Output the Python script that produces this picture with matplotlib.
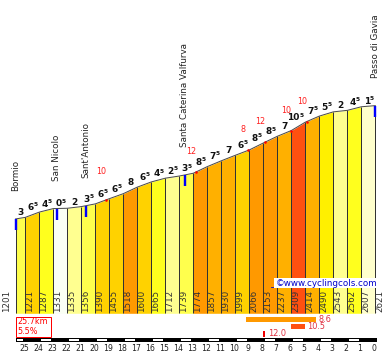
import matplotlib

matplotlib.use("Agg")
import matplotlib.pyplot as plt
import numpy as np
from matplotlib.patches import Rectangle

# profile: km still to climb at each point, altitude (m)
km_marks = [25.7, 25, 24, 23, 22, 21, 20, 19, 18, 17, 16, 15, 14, 13,
            12, 11, 10, 9, 8, 7, 6, 5, 4, 3, 2, 1, 0]
altitudes = [1201, 1221, 1287, 1331, 1335, 1356, 1390, 1455, 1518, 1600,
             1665, 1712, 1739, 1774, 1857, 1930, 1999, 2066, 2153, 2237,
             2309, 2414, 2490, 2543, 2562, 2607, 2621]
# average gradient of each column, as printed above it
gradients = [3, 6.5, 4.5, 0.5, 2, 3.5, 6.5, 6.5, 8, 6.5, 4.5, 2.5, 3.5,
             8.5, 7.5, 7, 6.5, 8.5, 8.5, 7, 10.5, 7.5, 5.5, 2, 4.5, 1.5]

# steepest short stretches (red marks)
peak_km = [19.24, 12.81, 9.07, 7.88, 6.04, 4.9]
peak_grad = [10, 12, 8, 12, 10, 10]

places = ["Bormio", "San Nicolo", "Sant'Antonio",
          "Santa Caterina Valfurva", "Passo di Gavia"]
place_km = [25.7, 22.76, 20.66, 13.6, 0]

# best stretches over 5 km, 1 km and 100 m
best_start = [9.24, 6.02, 8.0]
best_len = [5, 1, 0.15]
best_grad = [8.6, 10.5, 12.0]

total_km = 25.7
avg_grad = 5.5

# colour bands by gradient
band_edges = [1, 2, 3, 4, 5, 6, 7, 8, 9, 10, 11, 12]
band_colors = ["#FAFFF5", "#FFFFCC", "#FFFF90", "#FFFF4D", "#FFFF1E",
               "#FFF000", "#FFD200", "#FFB000", "#FF9900", "#FF7700",
               "#FF5010", "#FF2A00", "#EE0000"]


def grad_color(g):
    return band_colors[int(np.searchsorted(band_edges, g, side="right"))]


# pixel layout of the 390x355 picture
PX_KM = 14.0     # px per km
PX_M = 0.0798    # px per metre
X0 = 375.3       # px column of km 0
Y0 = 314.8       # px row of 0 m


def row(py):
    return (Y0 - py) / PX_M


def col(px):
    return (X0 - px) / PX_KM


PT = 0.72  # points per pixel at dpi 100

fig = plt.figure(figsize=(3.9, 3.55), dpi=100)
ax = fig.add_axes([0, 0, 1, 1])
ax.set_xlim(col(0), col(390))
ax.set_ylim(row(355), row(0))
ax.axis("off")

base = row(313.3)
km = np.array(km_marks, dtype=float)
alt = np.array(altitudes, dtype=float)

# columns
for i, g in enumerate(gradients):
    ax.fill_between(km[i:i + 2], alt[i:i + 2], base, color=grad_color(g), lw=0)
ax.vlines(km, base, alt, color="#333333", lw=1 * PT)
ax.plot(km, alt, color="#4a4a4a", lw=1 * PT)

# gradient labels above each column
for i, g in enumerate(gradients):
    mid = (km[i] + km[i + 1]) / 2
    top = alt[i + 1]
    whole = int(g)
    if g != whole:
        ax.annotate(str(whole), (mid, top), xytext=(1.5 * PT, 2 * PT),
                    textcoords="offset points", ha="right", va="baseline",
                    fontsize=6.5, fontweight="bold", color="#111111")
        ax.annotate("5", (mid, top), xytext=(1.6 * PT, 5.6 * PT),
                    textcoords="offset points", ha="left", va="baseline",
                    fontsize=4.2, fontweight="bold", color="#111111")
    else:
        ax.annotate(str(whole), (mid, top), xytext=(0, 2 * PT),
                    textcoords="offset points", ha="center", va="baseline",
                    fontsize=6.5, fontweight="bold", color="#111111")

# steepest points
rev_km, rev_alt = km[::-1], alt[::-1]
for i, (k, g) in enumerate(zip(peak_km, peak_grad)):
    e = np.interp(k, rev_km, rev_alt)
    ax.plot(k, e, "o", ms=2.6 * PT, color="#FF0000", mec="none")
    lift = 24 if i == 0 else 16
    ax.annotate(str(g), (k, e), xytext=(-5 * PT, lift * PT),
                textcoords="offset points", ha="center", va="bottom",
                fontsize=5.8, color="#FF2020")

# places
for name, k in zip(places, place_km):
    e = np.interp(k, rev_km, rev_alt)
    ax.plot([k, k], [e, e - 11 / PX_M], color="#0000FF", lw=2.4 * PT,
            solid_capstyle="butt")
    ax.annotate(name, (k, e), xytext=(0, 28 * PT), textcoords="offset points",
                rotation=90, ha="center", va="bottom", fontsize=6.3,
                color="#222222")

# altitude labels at the foot of the columns
for i, (k, a) in enumerate(zip(km, altitudes)):
    x = k + 9 / PX_KM if i == 0 else k - 4.5 / PX_KM
    ax.text(x, base + 1 / PX_M, str(a), rotation=90, ha="center", va="bottom",
            fontsize=6.3, color="#333333")

# watermark
ax.text(col(377), row(283), "\u00a9www.cyclingcols.com", ha="right",
        va="center", fontsize=6.3, color="#0000CC",
        bbox=dict(facecolor="white", edgecolor="none", pad=0.6))
ax.plot([col(271), col(377)], [row(287.3), row(287.3)], color="#0000CC",
        lw=0.8 * PT)

# summary box
ax.add_patch(Rectangle((km[0], row(336.7)), col(51.3) - km[0],
                       row(316.7) - row(336.7), facecolor="white",
                       edgecolor="#FF0000", lw=1 * PT))
ax.text(col(17.5), row(321.5), f"{total_km}km", ha="left", va="center",
        fontsize=5.8, color="#FF0000")
ax.text(col(17.5), row(331.5), f"{avg_grad}%", ha="left", va="center",
        fontsize=5.8, color="#FF0000")

# best stretches
bar_h = 5.5 / PX_M
for j, (s, n, g) in enumerate(zip(best_start, best_len, best_grad)):
    yc = row(319.5 + 7.2 * j)
    ax.barh(yc, -n, height=bar_h, left=s, color=grad_color(g), lw=0)
    ax.annotate(f"{g:.1f}", (s - n, yc), xytext=(2.3 * PT, 0),
                textcoords="offset points", ha="left", va="center",
                fontsize=5.9, color="#E03040")

# km scale
ax.add_patch(Rectangle((km[0], row(341.8)), col(376.7) - km[0],
                       row(338.2) - row(341.8), facecolor="black", lw=0))
for k in range(26, 0, -2):
    lo = min(k, km[0]) - 1.5 / PX_KM
    hi = k - 1 + 2 / PX_KM
    ax.add_patch(Rectangle((lo, row(340.8)), hi - lo,
                           row(339.2) - row(340.8), facecolor="white", lw=0))
for k in range(26):
    ax.text(k + 1.3 / PX_KM, row(348.5), str(k), ha="center", va="center",
            fontsize=5.6, color="#222222")

fig.savefig("out.png", dpi=100)
plt.close(fig)
